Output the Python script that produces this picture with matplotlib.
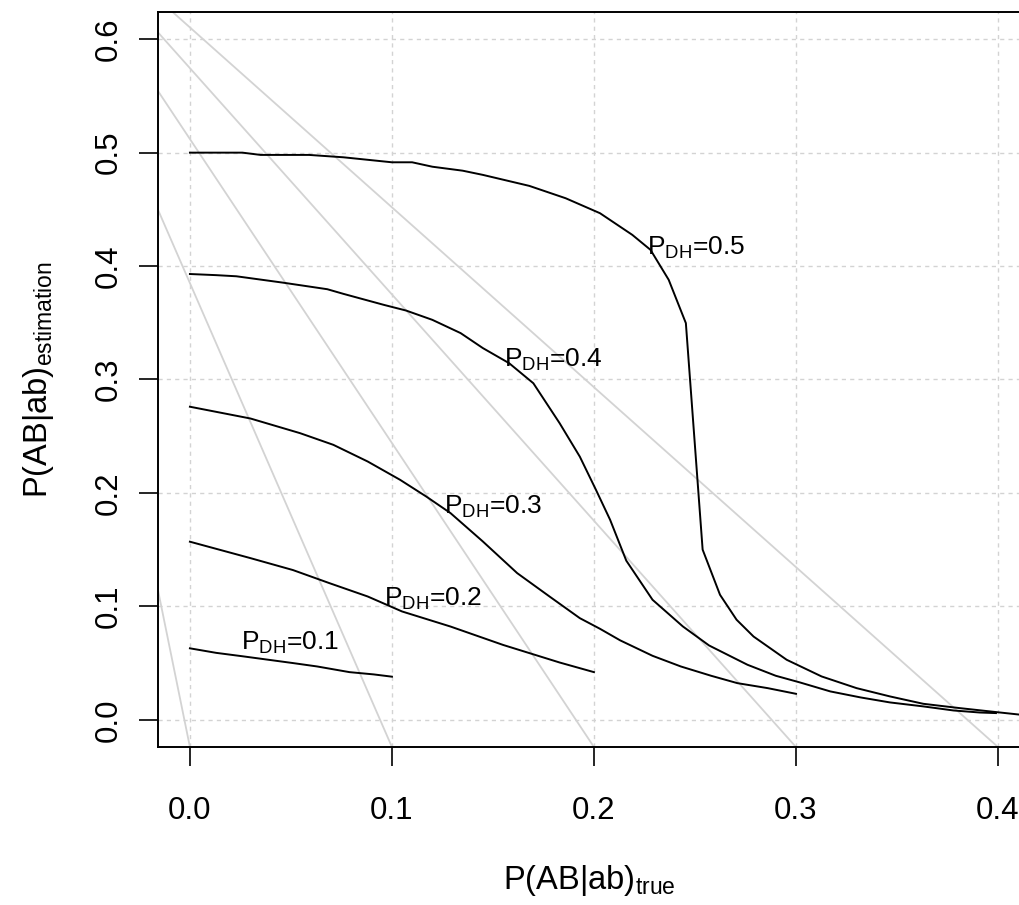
import numpy as np
import matplotlib
matplotlib.use("Agg")
import matplotlib.pyplot as plt

plt.rcParams['font.family'] = ['Liberation Sans', 'DejaVu Sans']
plt.rcParams['mathtext.fontset'] = 'custom'
plt.rcParams['mathtext.rm'] = 'Liberation Sans'
plt.rcParams['mathtext.it'] = 'Liberation Sans:italic'

# simulated curves, one per P_DH value
p_dh = [0.1, 0.2, 0.3, 0.4, 0.5]

x_01 = [0, 0.013, 0.026, 0.051, 0.063, 0.079, 0.091, 0.1]
y_01 = [0.063, 0.059, 0.056, 0.050, 0.047, 0.042, 0.040, 0.038]

x_02 = [0, 0.03, 0.051, 0.069, 0.088, 0.105, 0.129, 0.155, 0.183, 0.2]
y_02 = [0.157, 0.1425, 0.132, 0.1205, 0.1087, 0.0955, 0.0822, 0.066, 0.0505, 0.042]

x_03 = [0, 0.03, 0.0545, 0.071, 0.088, 0.104, 0.117, 0.129, 0.145, 0.162, 0.178,
        0.193, 0.203, 0.213, 0.229, 0.243, 0.258, 0.271, 0.286, 0.3]
y_03 = [0.276, 0.2656, 0.2527, 0.2424, 0.2277, 0.2116, 0.1968, 0.1822, 0.1572, 0.1293, 0.1087,
        0.0896, 0.0802, 0.070, 0.0564, 0.047, 0.0388, 0.0323, 0.0279, 0.0229]

x_04 = [0, 0.013, 0.023, 0.046, 0.068, 0.076, 0.096, 0.107, 0.12, 0.134, 0.145, 0.158,
        0.17, 0.183, 0.193, 0.201, 0.208, 0.216, 0.229, 0.244, 0.257, 0.276, 0.29,
        0.302, 0.317, 0.332, 0.3465, 0.363, 0.378, 0.391, 0.399]
y_04 = [0.393, 0.392, 0.391, 0.3854, 0.3796, 0.3755, 0.3658, 0.3608, 0.3526, 0.3409, 0.3277, 0.3144,
        0.2967, 0.2615, 0.232, 0.2027, 0.1763, 0.1403, 0.1058, 0.0823, 0.0655, 0.0485, 0.0388,
        0.0329, 0.025, 0.0197, 0.0153, 0.0118, 0.0082, 0.0064, 0.0059]

x_05 = [0, 0.026, 0.035, 0.059, 0.076, 0.1, 0.11, 0.12, 0.135, 0.145, 0.168, 0.186, 0.203,
        0.219, 0.228, 0.237, 0.2455, 0.2538, 0.2624, 0.2706, 0.279, 0.2954, 0.3127, 0.33,
        0.3465, 0.363, 0.381, 0.399, 0.411]
y_05 = [0.5, 0.5, 0.498, 0.498, 0.4959, 0.4915, 0.4915, 0.4876, 0.4841, 0.4804, 0.4707, 0.4598, 0.4466,
        0.4275, 0.4143, 0.3879, 0.3497, 0.15, 0.1102, 0.0882, 0.0734, 0.0529, 0.0382, 0.0279,
        0.0206, 0.0141, 0.0103, 0.0068, 0.0045]

curves_x = [x_01, x_02, x_03, x_04, x_05]
curves_y = [y_01, y_02, y_03, y_04, y_05]

# label anchor for each curve
label_x = [0.0495, 0.1205, 0.150, 0.180, 0.2505]
label_y = [0.068, 0.107, 0.188, 0.317, 0.416]

# grey reference lines: where they hit the lower edge, and their slope
ref_x_end = [0.0, 0.1, 0.2, 0.3, 0.4]
ref_slope = [-8.75, -4.09, -2.68, -1.995, -1.586]

x_ticks = [0.0, 0.1, 0.2, 0.3, 0.4]
y_ticks = [0.0, 0.1, 0.2, 0.3, 0.4, 0.5, 0.6]
x_lim = (-0.0158, 0.4109)
y_lim = (-0.024, 0.624)

fig = plt.figure(figsize=(10.2, 9.05), dpi=100)
ax = fig.add_axes([158/1020, (905-747)/905, 1 - 158/1020, (747-12)/905])

ax.set_xlim(*x_lim)
ax.set_ylim(*y_lim)

for xt in x_ticks:
    ax.axvline(xt, color='#D3D3D3', lw=1.0, ls=(0, (3, 3)), zorder=1)
for yt in y_ticks:
    ax.axhline(yt, color='#D3D3D3', lw=1.0, ls=(0, (3, 3)), zorder=1)

for d, s in zip(ref_x_end, ref_slope):
    ax.axline((d, y_lim[0]), slope=s, color='#D3D3D3', lw=1.3, zorder=2)

for cx, cy in zip(curves_x, curves_y):
    ax.plot(cx, cy, color='black', lw=1.4, zorder=3)

for p, lx, ly in zip(p_dh, label_x, label_y):
    ax.text(lx, ly, r'P$_{\mathrm{DH}}$=' + str(p), fontsize=19, ha='center', va='center', zorder=4)

ax.spines['right'].set_visible(False)
for sp in ['left', 'bottom', 'top']:
    ax.spines[sp].set_linewidth(1.4)

ax.set_xticks(x_ticks)
ax.set_xticklabels(['0.0', '0.1', '0.2', '0.3', '0.4'])
ax.set_yticks(y_ticks)
ax.set_yticklabels(['0.0', '0.1', '0.2', '0.3', '0.4', '0.5', '0.6'], rotation=90, va='center')
ax.tick_params(axis='both', direction='out', length=14, width=1.2, labelsize=22.5)
ax.tick_params(axis='x', pad=21)
ax.tick_params(axis='y', pad=11)

ax.set_xlabel(r'P(AB|ab)$_{\mathrm{true}}$', fontsize=23.5, labelpad=27)
ax.set_ylabel(r'P(AB|ab)$_{\mathrm{estimation}}$', fontsize=23.5, labelpad=27)

fig.savefig('out.png', dpi=100)
